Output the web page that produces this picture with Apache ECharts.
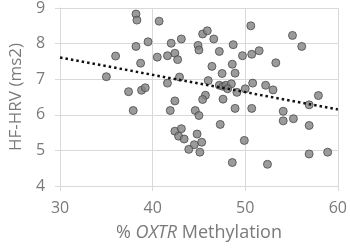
<!DOCTYPE html>
<html>
<head>
<meta charset="utf-8">
<script src="https://cdn.jsdelivr.net/npm/echarts@6/dist/echarts.min.js"></script>
<style>
  html, body { margin: 0; padding: 0; background: #fff; }
  #chart { width: 350px; height: 248px; }
</style>
</head>
<body>
<div id="chart"></div>
<script>
// % OXTR methylation (x) and HF-HRV (y)
const methylation = [
  35.0, 36.0, 38.2, 38.3, 40.7, 38.2, 39.5, 38.7, 40.5, 41.6,
  42.0, 42.4, 42.7, 43.1, 37.4, 38.8, 39.2, 37.9, 41.6, 42.4,
  41.9, 42.9, 45.4, 45.9, 46.6, 50.6, 55.1, 56.1, 44.9, 45.0,
  47.2, 48.7, 49.7, 50.7, 51.5, 53.3, 46.4, 48.6, 47.5, 48.9,
  46.0, 47.2, 47.6, 47.9, 48.5, 48.1, 49.1, 50.0, 50.8, 52.2,
  53.0, 57.9, 56.9, 45.7, 45.4, 47.6, 44.6, 45.0, 48.9, 50.7,
  54.1, 54.1, 55.2, 47.3, 56.9, 42.4, 43.1, 42.8, 43.4, 44.8,
  45.3, 44.5, 43.9, 45.1, 49.9, 48.6, 52.4, 56.9, 58.9
]
const hfHrv = [
  7.07, 7.65, 8.83, 8.66, 8.63, 7.92, 8.05, 7.45, 7.62, 7.66,
  8.01, 7.73, 7.55, 8.13, 6.65, 6.69, 6.76, 6.12, 6.89, 6.39,
  6.12, 7.06, 8.27, 8.36, 8.13, 8.50, 8.23, 7.92, 7.95, 7.82,
  7.78, 7.97, 7.66, 7.70, 7.80, 7.46, 7.36, 7.42, 7.16, 7.17,
  6.96, 6.83, 6.80, 6.83, 6.87, 6.73, 6.63, 6.73, 6.89, 6.83,
  6.70, 6.54, 6.28, 6.55, 6.43, 6.44, 6.12, 5.98, 6.18, 6.18,
  6.10, 5.83, 5.89, 5.73, 5.70, 5.54, 5.61, 5.40, 5.32, 5.46,
  5.23, 5.16, 5.03, 4.95, 5.28, 4.66, 4.61, 4.90, 4.95
]

// linear trendline endpoints as drawn
const trendX = [30, 60]
const trendY = [7.61, 6.15]

const points = methylation.map((x, i) => [x, hfHrv[i]])
const trend = trendX.map((x, i) => [x, trendY[i]])

const textColor = '#7a7a7a'
const gridColor = '#d9d9d9'
const font = 'Open Sans'

const chart = echarts.init(document.getElementById('chart'))
chart.setOption({
  animation: false,
  grid: { left: 51, right: 12, top: 6, bottom: 62 },
  xAxis: {
    type: 'value',
    min: 30,
    max: 60,
    interval: 10,
    name: '{a|% }{b|OXTR}{a| Methylation}',
    nameLocation: 'middle',
    nameGap: 38,
    nameTextStyle: {
      rich: {
        a: { fontFamily: font, fontSize: 18, color: textColor },
        b: { fontFamily: font, fontSize: 18, color: textColor, fontStyle: 'italic' }
      }
    },
    axisLine: { show: true, lineStyle: { color: gridColor, width: 1 } },
    axisTick: { show: true, length: 5, lineStyle: { color: gridColor } },
    axisLabel: { color: textColor, fontFamily: font, fontSize: 16, margin: 14 },
    splitLine: { show: true, lineStyle: { color: gridColor, width: 1 } }
  },
  yAxis: {
    type: 'value',
    min: 4,
    max: 9,
    interval: 1,
    name: 'HF-HRV (ms2)',
    nameLocation: 'middle',
    nameGap: 32,
    nameTextStyle: { color: textColor, fontFamily: font, fontSize: 17 },
    axisLine: { show: true, lineStyle: { color: gridColor, width: 1 } },
    axisTick: { show: true, length: 5, lineStyle: { color: gridColor } },
    axisLabel: { color: textColor, fontFamily: font, fontSize: 16, margin: 15 },
    splitLine: { show: true, lineStyle: { color: gridColor, width: 1 } }
  },
  series: [
    {
      type: 'scatter',
      data: points,
      symbolSize: 8,
      itemStyle: { color: '#828282', borderColor: '#4a4a4a', borderWidth: 1 }
    },
    {
      type: 'line',
      data: trend,
      symbol: 'none',
      lineStyle: { color: '#111', width: 2.5, type: [2.5, 3] },
      z: 3
    }
  ]
})
</script>
</body>
</html>
